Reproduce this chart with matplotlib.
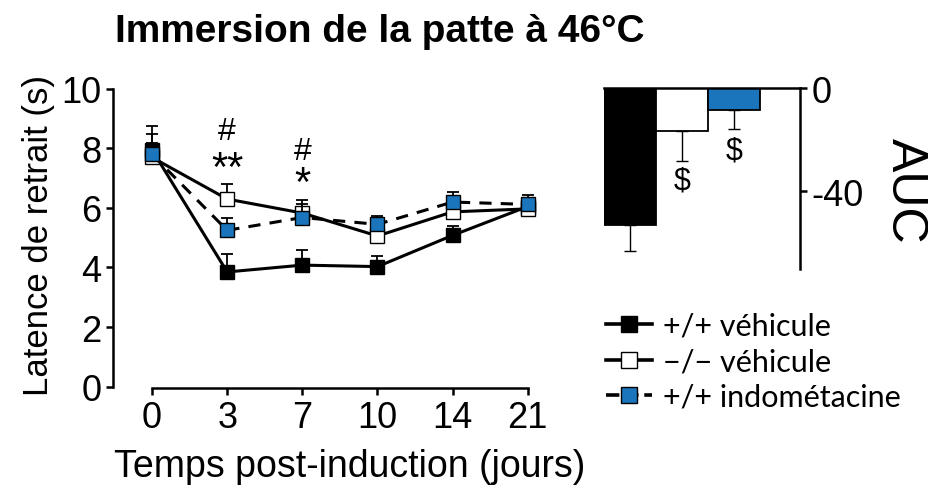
import matplotlib.pyplot as plt
from matplotlib.lines import Line2D
import numpy as np

plt.rcParams['font.family'] = ['Liberation Sans', 'DejaVu Sans']
plt.rcParams['axes.unicode_minus'] = False

# time points (days post-induction)
days = ['0', '3', '7', '10', '14', '21']

# withdrawal latency (s), mean and upper SEM
wt_veh = [7.95, 3.85, 4.08, 4.03, 5.08, 6.05]
wt_veh_err = [0.8, 0.62, 0.5, 0.35, 0.32, 0.3]
ko_veh = [7.7, 6.3, 5.83, 5.06, 5.87, 5.97]
ko_veh_err = [0.78, 0.52, 0.45, 0.3, 0.3, 0.3]
wt_indo = [7.8, 5.25, 5.68, 5.45, 6.2, 6.12]
wt_indo_err = [0.4, 0.42, 0.45, 0.27, 0.33, 0.33]

labels = ['+/+ véhicule', '\u2212/\u2212 véhicule', '+/+ indométacine']
blue = '#1a75bc'

# AUC bars
auc = [-52.8, -16.4, -8.3]
auc_err = [10.3, 11.6, 7.4]

fig = plt.figure(figsize=(9.29, 4.89), dpi=100)

# ---- line chart ----
ax = fig.add_axes([0.1216, 0.2045, 0.4594, 0.6115])
x = np.arange(len(days))
series = [
    (wt_veh, wt_veh_err, 'black', '-'),
    (ko_veh, ko_veh_err, 'white', '-'),
    (wt_indo, wt_indo_err, blue, '--'),
]
handles = []
for i, (vals, err, fc, ls) in enumerate(series):
    vals = np.array(vals)
    err = np.array(err)
    ax.errorbar(x, vals, yerr=[np.zeros_like(err), err], fmt='none',
                ecolor='black', elinewidth=1.3, capsize=4, capthick=1.3,
                zorder=2 + i, clip_on=False)
    h, = ax.plot(x, vals, color='black', ls=ls, lw=2.2, marker='s',
                 markersize=10, markerfacecolor=fc, markeredgecolor='black',
                 markeredgewidth=1.0, zorder=3 + i, clip_on=False)
    if ls == '--':
        h.set_dashes((4, 3))
    handles.append(Line2D([], [], color='black', ls=ls, lw=2.6, marker='s',
                          markersize=11, markerfacecolor=fc,
                          markeredgecolor='black', markeredgewidth=1.0))

ax.set_xlim(-0.52, 5.16)
ax.set_ylim(-0.05, 10)
ax.set_xticks(x)
ax.set_xticklabels(days)
ax.set_yticks([0, 2, 4, 6, 8, 10])
for s in ['top', 'right']:
    ax.spines[s].set_visible(False)
ax.spines['left'].set_bounds(0, 10)
ax.spines['bottom'].set_bounds(0, 5)
for s in ['left', 'bottom']:
    ax.spines[s].set_linewidth(1.8)
ax.tick_params(width=1.8, length=5, labelsize=26, direction='out')
ax.set_ylabel('Latence de retrait (s)', fontsize=25)
ax.set_xlabel('Temps post-induction (jours)', fontsize=27)
ax.yaxis.set_label_coords(-0.135, 0.515)
ax.xaxis.set_label_coords(0.555, -0.2)

# significance marks
ax.text(1, 8.6, '#', ha='center', va='center', fontsize=23)
ax.text(1, 7.3, '**', ha='center', va='center', fontsize=30)
ax.text(2, 7.9, '#', ha='center', va='center', fontsize=23)
ax.text(2, 6.8, '*', ha='center', va='center', fontsize=30)

fig.text(0.124, 0.935, 'Immersion de la patte à 46°C', fontsize=28,
         fontweight='bold', va='center')

# ---- AUC bar chart ----
bx = fig.add_axes([0.650, 0.448, 0.211, 0.3695])
bx.bar(np.arange(3), auc, width=1.0, color=['black', 'white', blue],
       edgecolor='black', linewidth=1.3, zorder=2)
bx.errorbar(np.arange(3), auc, yerr=[auc_err, np.zeros(3)], fmt='none',
            ecolor='black', elinewidth=1.0, capsize=4, capthick=1.0)
bx.text(1, -35.7, '$', ha='center', va='center', fontsize=22)
bx.text(2, -24.1, '$', ha='center', va='center', fontsize=22)
bx.set_xlim(-0.5, 3.27)
bx.set_ylim(-70, 0)
bx.set_xticks([])
bx.set_yticks([0, -40])
bx.yaxis.tick_right()
for s in ['left', 'bottom']:
    bx.spines[s].set_visible(False)
bx.spines['right'].set_linewidth(1.8)
bx.spines['top'].set_linewidth(1.8)
bx.tick_params(width=1.8, length=5, labelsize=26, direction='out')
fig.text(905 / 929, 1 - 191 / 489, 'AUC', fontsize=36, rotation=-90,
         ha='center', va='center')

# legend
fig.legend(handles, labels, loc='upper left', bbox_to_anchor=(0.636, 0.392),
           frameon=False, handlelength=1.5, handletextpad=0.35, borderpad=0,
           labelspacing=0.25, prop={'family': 'Lato', 'size': 22})

fig.savefig('out.png', dpi=100)
